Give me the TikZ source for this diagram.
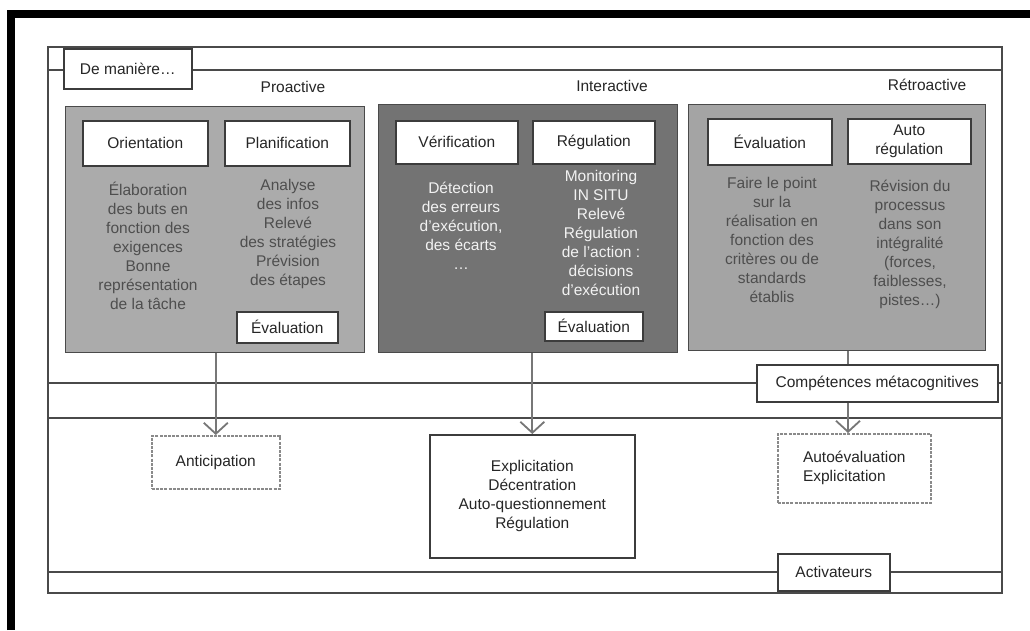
\documentclass[tikz,border=0pt]{standalone}
\usepackage{fontspec}
\setmainfont{Liberation Sans}
\usetikzlibrary{arrows.meta}
\definecolor{lightfill}{HTML}{ABABAB}
\definecolor{darkfill}{HTML}{737373}
\definecolor{framec}{HTML}{4A4A4A}
\definecolor{boxline}{HTML}{3C3C3C}
\definecolor{bodydark}{HTML}{4E4E4E}
\definecolor{bodylight}{HTML}{F2F2F2}
\definecolor{arrowc}{HTML}{777777}
\definecolor{dashc}{HTML}{8A8A8A}
\begin{document}
\begin{tikzpicture}[x=1pt,y=-1pt,
  font=\fontsize{15.5}{19}\selectfont,
  framestyle/.style={draw=framec, line width=1.2pt},
  gbox/.style={draw=framec, line width=1pt, inner sep=0pt, anchor=north west},
  wbox/.style={draw=boxline, fill=white, line width=1.6pt, inner sep=0pt, anchor=north west, text=black!85, align=center},
  dbox/.style={draw=dashc, fill=white, line width=1.6pt, dash pattern=on 3pt off 1.2pt, inner sep=0pt, anchor=north west, text=black!85, align=center},
  bodyd/.style={anchor=north, align=center, inner sep=0pt, text=bodydark},
  bodyl/.style={anchor=north, align=center, inner sep=0pt, text=bodylight},
  title/.style={inner sep=0pt, text=black!85},
  arr/.style={draw=arrowc, line width=1.8pt, -{Straight Barb[length=11pt,width=24pt]}},
  plainc/.style={draw=arrowc, line width=1.8pt}
]
\useasboundingbox (0,0) rectangle (1030,630);
\fill[white] (0,0) rectangle (1030,630);
% black outer frame (top and left)
\draw[line width=8pt] (11,630) -- (11,14) -- (1030,14);

% section frames
\draw[framestyle] (48,47) rectangle (1002,593);
\draw[framestyle] (48,70) rectangle (1002,383);
\draw[framestyle] (48,418) rectangle (1002,572);

% header box
\node[wbox, minimum width=128pt, minimum height=40pt] (dem) at (63,48) {De manière…};

% titles
\node[title] (tpro) at (293,87) {Proactive};
\node[title] (tint) at (612,86) {Interactive};
\node[title] (tret) at (927,85) {Rétroactive};

% gray panels
\node[gbox, fill=lightfill, minimum width=299pt, minimum height=246pt] (pro) at (65,106) {};
\node[gbox, fill=darkfill, minimum width=299pt, minimum height=248pt] (inter) at (378,104) {};
\node[gbox, fill=lightfill!96!black, minimum width=297pt, minimum height=246pt] (retro) at (688,104) {};

% white heading boxes
\node[wbox, minimum width=125pt, minimum height=45pt] (orient) at (82,120) {Orientation};
\node[wbox, minimum width=125pt, minimum height=45pt] (plan) at (224,120) {Planification};
\node[wbox, minimum width=122pt, minimum height=43pt] (verif) at (395,120) {Vérification};
\node[wbox, minimum width=122pt, minimum height=43pt] (regul) at (532,120) {Régulation};
\node[wbox, minimum width=124pt, minimum height=46pt] (evalr) at (707,118) {Évaluation};
\node[wbox, minimum width=123pt, minimum height=45pt] (autor) at (847,118) {Auto\\régulation};

% small evaluation boxes
\node[wbox, minimum width=101pt, minimum height=31pt] (evalp) at (236,311) {Évaluation};
\node[wbox, minimum width=98pt, minimum height=29pt] (evali) at (544,311) {Évaluation};

% body texts
\node[bodyd] (borient) at (148,182) {Élaboration\\des buts en\\fonction des\\exigences\\Bonne\\représentation\\de la tâche};
\node[bodyd] (bplan) at (288,179) {Analyse\\des infos\\Relevé\\des stratégies\\Prévision\\des étapes};
\node[bodyl] (bverif) at (461,182) {Détection\\des erreurs\\d’exécution,\\des écarts\\…};
\node[bodyl] (bregul) at (601,170) {Monitoring\\IN SITU\\Relevé\\Régulation\\de l’action :\\décisions\\d’exécution};
\node[bodyd] (bevalr) at (772,177) {Faire le point\\sur la\\réalisation en\\fonction des\\critères ou de\\standards\\établis};
\node[bodyd] (bautor) at (910,180) {Révision du\\processus\\dans son\\intégralité\\(forces,\\faiblesses,\\pistes…)};

% lower boxes
\node[wbox, minimum width=241pt, minimum height=37pt] (comp) at (756,364) {Compétences métacognitives};
\node[wbox, minimum width=112pt, minimum height=37pt] (activ) at (777,553) {Activateurs};
\node[dbox, minimum width=128pt, minimum height=53pt] (antic) at (151,435) {Anticipation};
\node[wbox, minimum width=205pt, minimum height=123pt] (expl) at (429,434) {Explicitation\\Décentration\\Auto-questionnement\\Régulation};
\node[dbox, minimum width=153pt, minimum height=69pt, align=left] (autoev) at (777,433) {Autoévaluation\\Explicitation};

% connectors
\coordinate (rx) at (848,0);
\draw[arr] (pro.south -| antic.north) -- (antic.north);
\draw[arr] (inter.south -| expl.north) -- (expl.north);
\draw[plainc] (retro.south -| rx) -- (comp.north -| rx);
\draw[arr] (comp.south -| rx) -- (autoev.north -| rx);
\end{tikzpicture}
\end{document}
